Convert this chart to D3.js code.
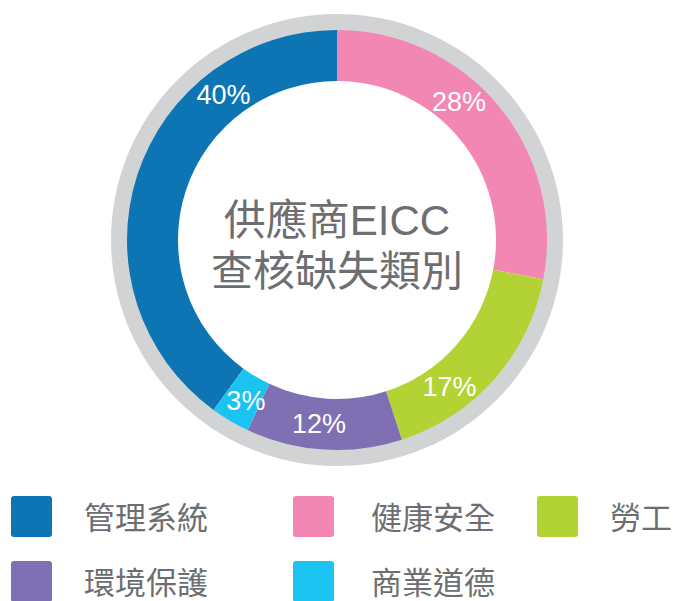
<!DOCTYPE html>
<html>
<head>
<meta charset="utf-8">
<script src="https://cdn.jsdelivr.net/npm/d3@7"></script>
<style>
  body { margin: 0; background: #fff; }
  svg text { font-family: "Liberation Sans", Arial, "Noto Sans CJK TC", sans-serif; }
</style>
</head>
<body>
<script>
// Data
const categories = ["管理系統", "健康安全", "勞工", "環境保護", "商業道德"];
const values = [40, 28, 17, 12, 3];
const colors = ["#0e75b5", "#f287b4", "#b3d334", "#7f70b4", "#1bc3f0"];
const titleLines = ["供應商EICC", "查核缺失類別"];

// Label nudges along the ring (degrees), layout only
const labelShift = [34, -9, 11, 2, -1];

const width = 673, height = 601;
const cx = 337, cy = 240;
const outerR = 210, innerR = 159, ringR = 226;

const svg = d3.select("body")
    .append("svg")
    .attr("width", width)
    .attr("height", height);

const g = svg.append("g")
    .attr("transform", `translate(${cx},${cy})`);

// Gray outer ring
g.append("path")
    .attr("d", d3.arc().innerRadius(outerR - 1).outerRadius(ringR)({ startAngle: 0, endAngle: 2 * Math.PI }))
    .style("fill", "#d1d3d4");

// Donut slices, blue ends at 12 o'clock
const pie = d3.pie()
    .sort(null)
    .value(d => d)
    .startAngle(-0.4 * 2 * Math.PI)
    .endAngle(0.6 * 2 * Math.PI);

const arc = d3.arc().innerRadius(innerR).outerRadius(outerR);
const arcs = pie(values);

g.selectAll("path.slice")
    .data(arcs)
    .enter()
    .append("path")
    .attr("class", "slice")
    .attr("d", arc)
    .style("fill", (d, i) => colors[i]);

// Percentage labels
const labelR = (innerR + outerR) / 2;
g.selectAll("text.pct")
    .data(arcs)
    .enter()
    .append("text")
    .attr("class", "pct")
    .attr("x", (d, i) => {
        const a = (d.startAngle + d.endAngle) / 2 + labelShift[i] * Math.PI / 180;
        return labelR * Math.sin(a);
    })
    .attr("y", (d, i) => {
        const a = (d.startAngle + d.endAngle) / 2 + labelShift[i] * Math.PI / 180;
        return -labelR * Math.cos(a);
    })
    .attr("dy", "0.36em")
    .style("text-anchor", "middle")
    .style("font-size", "27px")
    .style("fill", "#fff")
    .text(d => d.data + "%");

// Center title
g.selectAll("text.title")
    .data(titleLines)
    .enter()
    .append("text")
    .attr("class", "title")
    .attr("x", 0)
    .attr("y", (d, i) => -5 + i * 51)
    .style("text-anchor", "middle")
    .style("font-size", "42px")
    .style("fill", "#6d6e71")
    .text(d => d);

// Legend
const colX = [11, 293, 537];
const textGap = 73;
const legend = svg.selectAll(".legend")
    .data(categories)
    .enter()
    .append("g")
    .attr("class", "legend")
    .attr("transform", (d, i) => `translate(${colX[i % 3]},${496 + Math.floor(i / 3) * 65})`);

legend.append("rect")
    .attr("width", 41)
    .attr("height", 41)
    .attr("rx", 3)
    .style("fill", (d, i) => colors[i]);

legend.append("text")
    .attr("x", (d, i) => textGap + (i % 3 === 1 ? 5 : 0))
    .attr("y", 33)
    .style("font-size", "31px")
    .style("fill", "#6d6e71")
    .text(d => d);
</script>
</body>
</html>
